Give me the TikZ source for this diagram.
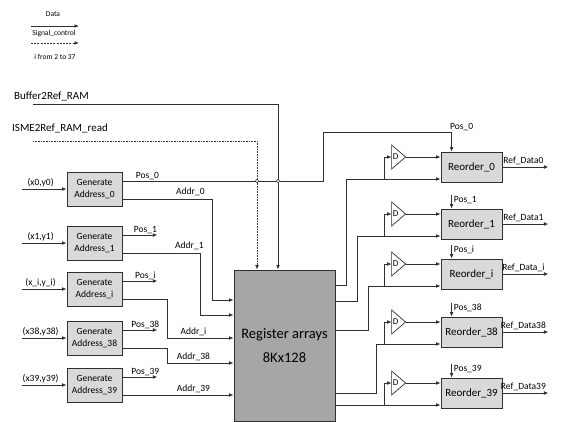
\documentclass[tikz,border=0pt]{standalone}
\usepackage{fontspec}
\setmainfont{Carlito}
\usetikzlibrary{arrows.meta}
\definecolor{lncol}{HTML}{303030}
\definecolor{boxfill}{HTML}{D9D9D9}
\definecolor{regfill}{HTML}{A6A6A6}
\begin{document}
\begin{tikzpicture}[x=1pt,y=-1pt,
  ln/.style={draw=lncol, line width=0.8pt},
  arr/.style={ln,-{Latex[length=4.5pt,width=3.8pt]}},
  dasharr/.style={arr, dash pattern=on 2pt off 1.2pt},
  dotarr/.style={arr, dash pattern=on 0.9pt off 0.7pt},
  genbox/.style={draw=lncol, line width=0.8pt, fill=boxfill, minimum width=55pt, minimum height=34pt, inner sep=0pt, align=center, font=\fontsize{9.5}{12}\selectfont},
  reobox/.style={draw=lncol, line width=0.8pt, fill=boxfill, minimum width=61pt, minimum height=30pt, inner sep=0pt, font=\fontsize{11}{13}\selectfont},
  lbl/.style={font=\fontsize{9.5}{11}\selectfont, inner sep=0pt},
  biglbl/.style={font=\fontsize{11}{13}\selectfont, inner sep=0pt, anchor=west},
  leg/.style={font=\fontsize{7.5}{9}\selectfont, inner sep=0pt},
  hop/.style={ln, line width=0.6pt, fill=white},
]
\useasboundingbox (0,0) rectangle (563,421);

% legend
\node[leg] (legdata) at (53,14) {Data};
\coordinate (lega1) at (31,26);
\coordinate (lega2) at (79,26);
\draw[arr] (lega1) -- (lega2);
\node[leg] (legsig) at (54,34) {Signal\_control};
\coordinate (legb1) at (31,43);
\coordinate (legb2) at (79,43);
\draw[dasharr] (legb1) -- (legb2);
\node[leg] (legi) at (55,57) {i from 2 to 37};

% register
\node[draw=lncol, line width=0.9pt, fill=regfill, minimum width=101pt, minimum height=151pt, inner sep=0pt, align=center, font=\fontsize{14.5}{24}\selectfont] (reg) at (284.5,345.5) {Register arrays\\8Kx128};

% control inputs
\node[biglbl] (buflbl) at (14,96) {Buffer2Ref\_RAM};
\node[biglbl] (ismelbl) at (12,128) {ISME2Ref\_RAM\_read};
\coordinate (bufstart) at (33,104);
\coordinate (ismestart) at (33,141);
\coordinate (regbuf) at ([xshift=-6.5pt]reg.north);
\coordinate (regisme) at ([xshift=-27.5pt]reg.north);
\draw[arr] (bufstart) -| (regbuf);
\draw[dotarr] (ismestart) -| (regisme);

% generate address boxes
\node[genbox] (g0)  at (94.5,189) {Generate\\Address\_0};
\node[genbox] (g1)  at (94.5,243) {Generate\\Address\_1};
\node[genbox] (gi)  at (94.5,289) {Generate\\Address\_i};
\node[genbox] (g38) at (94.5,338) {Generate\\Address\_38};
\node[genbox] (g39) at (94.5,385) {Generate\\Address\_39};

% inputs to generate boxes
\foreach \g/\t in {g0/{(x0,y0)}, g1/{(x1,y1)}, gi/{(x\_i,y\_i)}, g38/{(x38,y38)}, g39/{(x39,y39)}} {
  \coordinate (\g in) at ([xshift=-45pt]\g.west);
  \draw[arr] (\g in) -- (\g.west);
  \node[lbl, anchor=south] at ([xshift=-26pt,yshift=2pt]\g.west) {\t};
}

% register inputs
\coordinate (ra0)  at ([yshift=45.5pt]reg.west);
\coordinate (ra1)  at ([yshift=30.5pt]reg.west);
\coordinate (rai)  at ([yshift=7.5pt]reg.west);
\coordinate (ra38) at ([yshift=-17.5pt]reg.west);
\coordinate (ra39) at ([yshift=-49.5pt]reg.west);

\foreach \g in {g0,g1,gi,g38,g39} {
  \coordinate (\g p) at ([yshift=8pt]\g.east);
  \coordinate (\g a) at ([yshift=-10pt]\g.east);
}
\draw[arr] (g0a) -- ++(90,0) |- (ra0);
\draw[arr] (g1a) -- ++(78,0) |- (ra1);
\draw[arr] (gia) -- ++(45,0) |- (rai);
\draw[arr] (g38a) -- ++(45,0) |- (ra38);
\draw[arr] (g39a) -- (ra39);
\node[lbl, anchor=south] at ([xshift=68pt,yshift=3pt]g0a) {Addr\_0};
\node[lbl, anchor=south] at ([xshift=67pt,yshift=3pt]g1a) {Addr\_1};
\node[lbl, anchor=south] at ([xshift=71pt,yshift=2pt]rai -| g0a) {Addr\_i};
\node[lbl, anchor=south] at ([xshift=71pt,yshift=2pt]ra38 -| g0a) {Addr\_38};
\node[lbl, anchor=south] at ([xshift=71pt,yshift=2pt]g39a) {Addr\_39};

% Pos outputs (short)
\foreach \g/\t in {g1/Pos\_1, gi/Pos\_i, g38/Pos\_38, g39/Pos\_39} {
  \draw[arr] (\g p) -- ++(35,0);
  \node[lbl, anchor=south] at ([xshift=23pt,yshift=1.5pt]\g p) {\t};
}

% reorder boxes
\node[reobox] (r0)  at (471.5,167) {Reorder\_0};
\node[reobox] (r1)  at (471.5,224) {Reorder\_1};
\node[reobox] (ri)  at (471.5,274) {Reorder\_i};
\node[reobox] (r38) at (471.5,332) {Reorder\_38};
\node[reobox] (r39) at (471.5,393) {Reorder\_39};

\foreach \r in {r0,r1,ri,r38,r39} {
  \coordinate (\r A) at ([yshift=10pt]\r.west);
  \coordinate (\r B) at ([yshift=-12pt]\r.west);
  \coordinate (\r P) at ([xshift=11pt]\r.north west);
}

% Pos_0 long path
\draw[arr] (g0p) -- ++(201,0) |- ([yshift=19pt]r0P) -- (r0P);
\node[lbl, anchor=south] at ([xshift=10pt,yshift=21pt]r0P) {Pos\_0};
\draw[hop] (regisme |- g0p) circle (1.8);
\draw[hop] (regbuf |- g0p) circle (1.8);
\node[lbl, anchor=south] at ([xshift=25pt,yshift=1.5pt]g0p) {Pos\_0};

% Pos arrows above reorder boxes
\foreach \r/\t in {r1/Pos\_1, ri/Pos\_i, r38/Pos\_38, r39/Pos\_39} {
  \draw[arr] ([yshift=14pt]\r P) -- (\r P);
  \node[lbl, anchor=west] at ([xshift=2pt,yshift=9pt]\r P) {\t};
}

% register outputs
\coordinate (ro0)  at ([yshift=60.5pt]reg.east);
\coordinate (ro1)  at ([yshift=44.5pt]reg.east);
\coordinate (roi)  at ([yshift=15.5pt]reg.east);
\coordinate (ro38) at ([yshift=-47.5pt]reg.east);
\coordinate (ro39) at ([yshift=-59.5pt]reg.east);
\draw[arr] (ro0) -- ++(11,0) |- (r0B);
\draw[arr] (ro1) -- ++(22,0) |- (r1B);
\draw[arr] (roi) -- ++(33,0) |- (riB);
\draw[arr] (ro38) -- ++(41,0) |- (r38B);
\draw[arr] (ro39) -- (r39B);

% D delay elements
\foreach \r in {r0,r1,ri,r38,r39} {
  \coordinate (\r dl) at ([xshift=-49pt]\r A);
  \coordinate (\r dr) at ([xshift=-35pt]\r A);
  \draw[ln, line width=0.7pt, fill=white] ([yshift=12pt]\r dl) -- (\r dr) -- ([yshift=-12pt]\r dl) -- cycle;
  \node[font=\fontsize{9}{10}\selectfont, inner sep=0pt, anchor=west] at ([xshift=1pt]\r dl) {D};
  \draw[arr] ([xshift=-56pt]\r B) |- (\r dl);
  \draw[arr] (\r dr) -- (\r A);
}

% outputs
\foreach \r/\t in {r0/Ref\_Data0, r1/Ref\_Data1, ri/Ref\_Data\_i, r38/Ref\_Data38, r39/Ref\_Data39} {
  \draw[arr] (\r.east) -- ++(46,0);
  \node[lbl, anchor=south] at ([xshift=21pt,yshift=2pt]\r.east) {\t};
}
\end{tikzpicture}
\end{document}
